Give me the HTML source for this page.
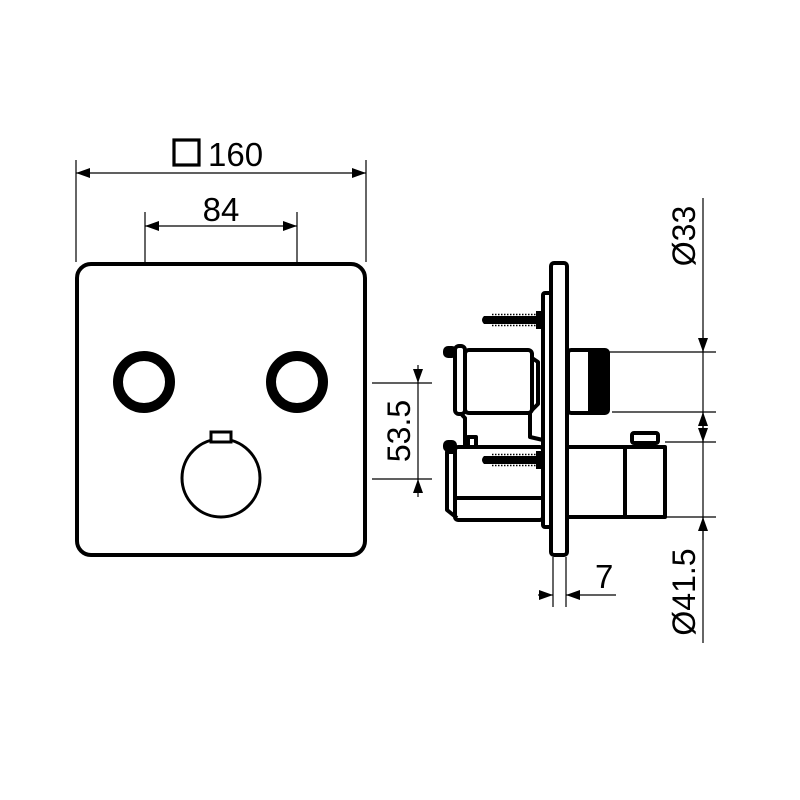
<!DOCTYPE html>
<html><head><meta charset="utf-8"><style>html,body{margin:0;padding:0;background:#fff}svg{display:block}</style></head><body>
<svg width="800" height="800" viewBox="0 0 800 800" xmlns="http://www.w3.org/2000/svg" font-family="Liberation Sans, Arial, sans-serif">
<defs>
<marker id="a" viewBox="0 0 14 10" refX="14" refY="5" markerWidth="14" markerHeight="10" markerUnits="userSpaceOnUse" orient="auto-start-reverse"><path d="M0,0 L14,5 L0,10z" fill="#000"/></marker>
</defs>
<g stroke="#000" stroke-width="1.2" fill="none">
<line x1="76" y1="160" x2="76" y2="262"/><line x1="366" y1="160" x2="366" y2="262"/>
<line x1="76" y1="173" x2="366" y2="173" marker-start="url(#a)" marker-end="url(#a)"/>
<line x1="145" y1="212" x2="145" y2="262"/><line x1="297" y1="212" x2="297" y2="262"/>
<line x1="145" y1="226" x2="297" y2="226" marker-start="url(#a)" marker-end="url(#a)"/>
<line x1="372" y1="383" x2="432" y2="383"/><line x1="372" y1="479" x2="432" y2="479"/>
<line x1="418" y1="365" x2="418" y2="383" marker-end="url(#a)"/>
<line x1="418" y1="383" x2="418" y2="479"/>
<line x1="418" y1="497" x2="418" y2="479" marker-end="url(#a)"/>
<line x1="703" y1="198" x2="703" y2="643"/>
<line x1="608" y1="352" x2="716" y2="352"/><line x1="612" y1="412" x2="716" y2="412"/>
<line x1="665" y1="442" x2="716" y2="442"/><line x1="665" y1="517" x2="716" y2="517"/>
<line x1="703" y1="330" x2="703" y2="352" marker-end="url(#a)"/>
<line x1="703" y1="428" x2="703" y2="412" marker-end="url(#a)"/>
<line x1="703" y1="426" x2="703" y2="442" marker-end="url(#a)"/>
<line x1="703" y1="540" x2="703" y2="517" marker-end="url(#a)"/>
<line x1="553" y1="557" x2="553" y2="607"/><line x1="566" y1="557" x2="566" y2="607"/>
<line x1="538" y1="595" x2="553" y2="595" marker-end="url(#a)"/>
<line x1="616" y1="595" x2="566" y2="595" marker-end="url(#a)"/>
</g>
<rect x="77" y="264" width="288" height="291" rx="14" fill="none" stroke="#000" stroke-width="4"/>
<circle cx="144" cy="382" r="26" fill="none" stroke="#000" stroke-width="10"/>
<circle cx="297" cy="382" r="26" fill="none" stroke="#000" stroke-width="10"/>
<circle cx="221" cy="478" r="39" fill="none" stroke="#000" stroke-width="3"/>
<rect x="211" y="432" width="20" height="10" fill="#fff" stroke="#000" stroke-width="3"/>
<rect x="174" y="140" width="25" height="25" fill="none" stroke="#000" stroke-width="3.2"/>
<text x="208" y="166" font-size="33">160</text>
<text x="221" y="221" font-size="33" text-anchor="middle">84</text>
<text transform="translate(410,431) rotate(-90)" font-size="32" text-anchor="middle">53.5</text>
<text transform="translate(695,236) rotate(-90)" font-size="32" text-anchor="middle">Ø33</text>
<text transform="translate(695,592) rotate(-90)" font-size="32" text-anchor="middle">Ø41.5</text>
<text x="595" y="588" font-size="33">7</text>
<g stroke="#000" stroke-width="4" fill="none" stroke-linejoin="round">
<rect x="551" y="263" width="16" height="292" rx="3"/>
<rect x="543" y="293" width="8" height="234" rx="2"/>
<rect x="465" y="350" width="67" height="63" rx="4"/>
<rect x="455" y="346" width="10" height="68" rx="4"/>
<path d="M532 358 L538 362 L538 404 L532 410"/>
<path d="M462 415 L465 418 L465 447 M530 413 L530 437 L543 440"/>
<rect x="568" y="350" width="40" height="63" rx="3"/>
<rect x="455" y="447" width="88" height="73" rx="3"/>
<line x1="457" y1="498" x2="543" y2="498"/>
<path d="M455 452 L447 452 L447 510 L457 518"/>
<rect x="567" y="447" width="98" height="70"/>
<line x1="625" y1="447" x2="625" y2="517"/>
<rect x="632" y="433" width="26" height="10" rx="2"/>
<rect x="468" y="437" width="8" height="10"/>
</g>
<rect x="588" y="352" width="20" height="59" fill="#000"/>
<rect x="443" y="346" width="14" height="12" rx="5" fill="#000"/>
<rect x="443" y="440" width="14" height="12" rx="5" fill="#000"/>
<g fill="#000">
<path d="M484 316 L536 316 L536 324 L484 324 Q480 320 484 316z"/>
<rect x="536" y="311" width="5" height="18"/>
<path d="M484 456 L536 456 L536 464 L484 464 Q480 460 484 456z"/>
<rect x="536" y="451" width="5" height="18"/>
</g>
<g stroke="#000" stroke-width="1.5" stroke-dasharray="1.5 1.5">
<line x1="492" y1="314.5" x2="536" y2="314.5"/><line x1="492" y1="325.5" x2="536" y2="325.5"/>
<line x1="492" y1="454.5" x2="536" y2="454.5"/><line x1="492" y1="465.5" x2="536" y2="465.5"/>
</g>
</svg>
</body></html>
